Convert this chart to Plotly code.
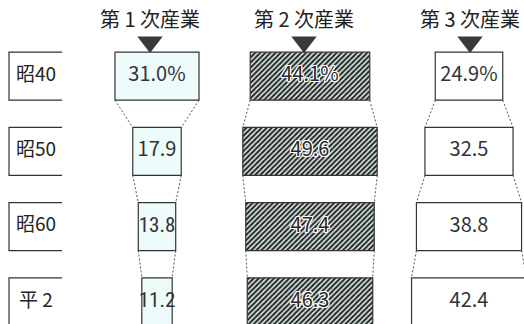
import plotly.graph_objects as go

# Industry shares by year (percent)
years = ["昭40", "昭50", "昭60", "平 2"]
primary = [31.0, 17.9, 13.8, 11.2]
secondary = [44.1, 49.6, 47.4, 46.3]
tertiary = [24.9, 32.5, 38.8, 42.4]
headers = ["第 1 次産業", "第 2 次産業", "第 3 次産業"]

W, H = 524, 324
SCALE = 2.71                      # pixels per percentage point
def u(px):
    return px / SCALE             # pixel position -> x-axis units

row_y = [76.2, 151.4, 226.6, 301.8]
ROW_H = 48
col_center = [u(157), u(310), u(469)]
head_center = [u(150), u(304), u(470)]

CJK = "Noto Sans CJK JP"
NARROW = "Roboto Condensed"
EDGE = "#333333"

series = [primary, secondary, tertiary]
fills = ["#eefbfb", "#262b2a", "#ffffff"]

fig = go.Figure()

for k, vals in enumerate(series):
    c = col_center[k]
    marker = dict(color=fills[k], line=dict(color=EDGE, width=1.2))
    if k == 1:
        marker["pattern"] = dict(shape="/", fgcolor="#e6f1ee", bgcolor="#262b2a",
                                 size=3.6, solidity=0.42, fillmode="replace")
    fig.add_trace(go.Bar(
        orientation="h", y=row_y, x=vals, base=[c - v / 2 for v in vals],
        width=ROW_H, marker=marker, hoverinfo="skip", showlegend=False))

    # dashed connectors between consecutive boxes
    for i in range(len(vals) - 1):
        y0 = row_y[i] + ROW_H / 2
        y1 = row_y[i + 1] - ROW_H / 2
        for sgn in (-1, 1):
            fig.add_trace(go.Scatter(
                x=[c + sgn * vals[i] / 2, c + sgn * vals[i + 1] / 2], y=[y0, y1],
                mode="lines", line=dict(color="#555555", width=1, dash="2px,2px"),
                hoverinfo="skip", showlegend=False))

    # value labels (narrow boxes get a condensed face)
    labels = [f"{v:.1f}%" if i == 0 else f"{v:.1f}" for i, v in enumerate(vals)]
    for i, (lab, v) in enumerate(zip(labels, vals)):
        narrow = v < 16
        font = dict(family=NARROW if narrow else CJK, size=21 if narrow else 20,
                    color="#333333")
        if k == 1:
            font["color"] = "#2a2a2a"
            font["shadow"] = ("1px 1px 0 #fff, -1px -1px 0 #fff, 1px -1px 0 #fff, "
                              "-1px 1px 0 #fff, 0 1px 0 #fff, 0 -1px 0 #fff, 1px 0 0 #fff, -1px 0 0 #fff")
        fig.add_trace(go.Scatter(
            x=[c], y=[row_y[i]], mode="text", text=[lab], textfont=font,
            textposition="middle center", hoverinfo="skip", showlegend=False))

# column headers and pointer triangles
for k, h in enumerate(headers):
    fig.add_annotation(x=head_center[k], y=18.5, text=h, showarrow=False,
                       font=dict(family=CJK, size=20, color="#222222"),
                       xanchor="center", yanchor="middle")
fig.add_trace(go.Scatter(
    x=head_center, y=[42] * 3, mode="markers",
    marker=dict(symbol="triangle-down", size=22, color="#3a3a3a", line=dict(width=0)),
    hoverinfo="skip", showlegend=False))

# year label frames (open on the right)
for i, yr in enumerate(years):
    t, b = row_y[i] - ROW_H / 2, row_y[i] + ROW_H / 2
    fig.add_trace(go.Scatter(
        x=[u(62), u(9), u(9), u(62)], y=[t, t, b, b], mode="lines",
        line=dict(color=EDGE, width=1.2), hoverinfo="skip", showlegend=False))
    fig.add_trace(go.Scatter(
        x=[u(36)], y=[row_y[i]], mode="text", text=[yr],
        textfont=dict(family=CJK, size=19, color="#222222"),
        hoverinfo="skip", showlegend=False))

fig.update_layout(
    width=W, height=H, margin=dict(l=0, r=0, t=0, b=0),
    paper_bgcolor="white", plot_bgcolor="white", barmode="overlay",
    xaxis=dict(range=[0, u(W)], visible=False, fixedrange=True),
    yaxis=dict(range=[H, 0], visible=False, fixedrange=True),
)

fig.write_html("out.html")
